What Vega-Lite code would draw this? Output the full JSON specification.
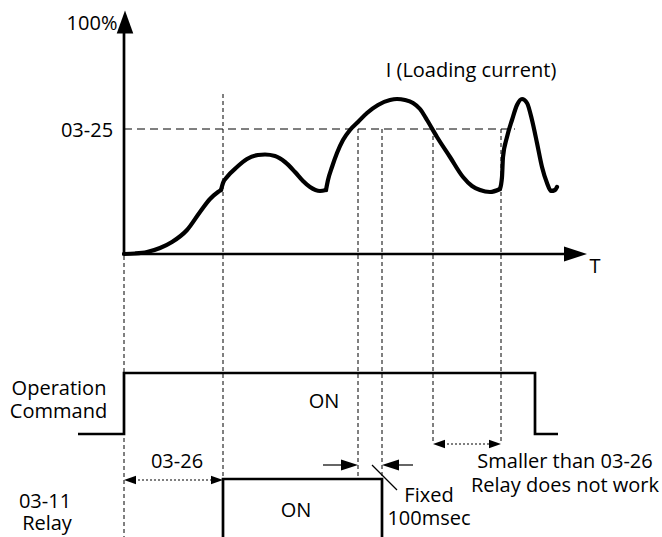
{
  "$schema": "https://vega.github.io/schema/vega-lite/v6.json",
  "width": 662,
  "height": 537,
  "autosize": {"type": "none"},
  "padding": 0,
  "background": "white",
  "config": {"view": {"stroke": null}},
  "datasets": {
    "curve": [
      {"seg": 1, "t": 124, "v": 254}, {"seg": 1, "t": 135, "v": 253.5}, {"seg": 1, "t": 147, "v": 252}, {"seg": 1, "t": 160, "v": 248}, {"seg": 1, "t": 172, "v": 242}, {"seg": 1, "t": 187, "v": 230}, {"seg": 1, "t": 200, "v": 212}, {"seg": 1, "t": 210, "v": 199}, {"seg": 1, "t": 218, "v": 192}, {"seg": 1, "t": 221, "v": 190},
      {"seg": 2, "t": 221, "v": 190}, {"seg": 2, "t": 223, "v": 183}, {"seg": 2, "t": 227, "v": 177}, {"seg": 2, "t": 237, "v": 167}, {"seg": 2, "t": 247, "v": 159}, {"seg": 2, "t": 258, "v": 155}, {"seg": 2, "t": 265, "v": 154.5}, {"seg": 2, "t": 275, "v": 156}, {"seg": 2, "t": 285, "v": 162}, {"seg": 2, "t": 295, "v": 172}, {"seg": 2, "t": 303, "v": 181}, {"seg": 2, "t": 310, "v": 187}, {"seg": 2, "t": 320, "v": 191}, {"seg": 2, "t": 326, "v": 190},
      {"seg": 3, "t": 326, "v": 190}, {"seg": 3, "t": 328, "v": 180}, {"seg": 3, "t": 332, "v": 167}, {"seg": 3, "t": 337, "v": 153}, {"seg": 3, "t": 343, "v": 140}, {"seg": 3, "t": 350, "v": 130}, {"seg": 3, "t": 358, "v": 122}, {"seg": 3, "t": 367, "v": 113}, {"seg": 3, "t": 378, "v": 105}, {"seg": 3, "t": 390, "v": 100}, {"seg": 3, "t": 397, "v": 99}, {"seg": 3, "t": 405, "v": 100}, {"seg": 3, "t": 413, "v": 103}, {"seg": 3, "t": 420, "v": 109}, {"seg": 3, "t": 427, "v": 120}, {"seg": 3, "t": 437, "v": 137}, {"seg": 3, "t": 450, "v": 157}, {"seg": 3, "t": 463, "v": 177}, {"seg": 3, "t": 472, "v": 186}, {"seg": 3, "t": 480, "v": 190}, {"seg": 3, "t": 490, "v": 192}, {"seg": 3, "t": 500, "v": 189},
      {"seg": 4, "t": 500, "v": 189}, {"seg": 4, "t": 502, "v": 177}, {"seg": 4, "t": 503, "v": 157}, {"seg": 4, "t": 507, "v": 137}, {"seg": 4, "t": 512, "v": 120}, {"seg": 4, "t": 517, "v": 105}, {"seg": 4, "t": 522, "v": 99}, {"seg": 4, "t": 527, "v": 103}, {"seg": 4, "t": 532, "v": 120}, {"seg": 4, "t": 537, "v": 143}, {"seg": 4, "t": 542, "v": 167}, {"seg": 4, "t": 547, "v": 183}, {"seg": 4, "t": 551, "v": 191}, {"seg": 4, "t": 555, "v": 190}, {"seg": 4, "t": 557, "v": 187}
    ],
    "solid": [
      {"path": "yaxis", "k": 1, "t": 124, "v": 254}, {"path": "yaxis", "k": 2, "t": 124, "v": 26},
      {"path": "xaxis", "k": 1, "t": 122, "v": 254}, {"path": "xaxis", "k": 2, "t": 568, "v": 254},
      {"path": "op", "k": 1, "t": 78, "v": 434}, {"path": "op", "k": 2, "t": 124, "v": 434}, {"path": "op", "k": 3, "t": 124, "v": 373}, {"path": "op", "k": 4, "t": 535, "v": 373}, {"path": "op", "k": 5, "t": 535, "v": 434}, {"path": "op", "k": 6, "t": 558, "v": 434},
      {"path": "relay", "k": 1, "t": 223, "v": 540}, {"path": "relay", "k": 2, "t": 223, "v": 479}, {"path": "relay", "k": 3, "t": 382, "v": 479}, {"path": "relay", "k": 4, "t": 382, "v": 540}
    ],
    "dashH": [
      {"t": 124, "v": 129, "t2": 515, "v2": 129}
    ],
    "dashV": [
      {"t": 124, "v": 256, "t2": 124, "v2": 537},
      {"t": 223, "v": 94, "t2": 223, "v2": 479},
      {"t": 358, "v": 129, "t2": 358, "v2": 479},
      {"t": 382, "v": 129, "t2": 382, "v2": 479},
      {"t": 433, "v": 129, "t2": 433, "v2": 444},
      {"t": 501, "v": 129, "t2": 501, "v2": 444}
    ],
    "dotted": [
      {"t": 130, "v": 480, "t2": 217, "v2": 480},
      {"t": 439, "v": 444, "t2": 495, "v2": 444}
    ],
    "thin": [
      {"t": 323, "v": 465, "t2": 345, "v2": 465},
      {"t": 396, "v": 465, "t2": 413, "v2": 465},
      {"t": 372, "v": 465, "t2": 397, "v2": 490}
    ],
    "axisHeads": [
      {"dir": "up", "t": 125, "v": 22},
      {"dir": "right", "t": 575.5, "v": 254}
    ],
    "dimHeads": [
      {"dir": "left", "t": 130, "v": 480},
      {"dir": "right", "t": 217, "v": 480},
      {"dir": "left", "t": 439, "v": 444},
      {"dir": "right", "t": 495, "v": 444}
    ],
    "fixedHeads": [
      {"dir": "right", "t": 349.5, "v": 465},
      {"dir": "left", "t": 390.5, "v": 465}
    ],
    "labels": [
      {"label": "100%", "t": 92, "v": 29.5},
      {"label": "03-25", "t": 87, "v": 137},
      {"label": "I (Loading current)", "t": 471, "v": 77},
      {"label": "T", "t": 595, "v": 273},
      {"label": "Operation", "t": 59, "v": 395},
      {"label": "Command", "t": 58.5, "v": 418},
      {"label": "ON", "t": 324, "v": 408},
      {"label": "03-26", "t": 177, "v": 468},
      {"label": "03-11", "t": 45, "v": 508},
      {"label": "Relay", "t": 47, "v": 530},
      {"label": "ON", "t": 296, "v": 517},
      {"label": "Fixed", "t": 429, "v": 502},
      {"label": "100msec", "t": 429, "v": 525},
      {"label": "Smaller than 03-26", "t": 565, "v": 468},
      {"label": "Relay does not work", "t": 565, "v": 492}
    ]
  },
  "encoding": {
    "x": {"field": "t", "type": "quantitative", "scale": {"domain": [0, 662], "nice": false, "zero": false}, "axis": null},
    "y": {"field": "v", "type": "quantitative", "scale": {"domain": [0, 537], "nice": false, "zero": false, "reverse": true}, "axis": null}
  },
  "layer": [
    {
      "data": {"name": "dashH"},
      "mark": {"type": "rule", "color": "black", "strokeWidth": 1, "strokeDash": [8, 5]},
      "encoding": {"x2": {"field": "t2"}, "y2": {"field": "v2"}}
    },
    {
      "data": {"name": "dashV"},
      "mark": {"type": "rule", "color": "black", "strokeWidth": 1, "strokeDash": [4, 3]},
      "encoding": {"x2": {"field": "t2"}, "y2": {"field": "v2"}}
    },
    {
      "data": {"name": "dotted"},
      "mark": {"type": "rule", "color": "black", "strokeWidth": 1.2, "strokeDash": [2, 2]},
      "encoding": {"x2": {"field": "t2"}, "y2": {"field": "v2"}}
    },
    {
      "data": {"name": "thin"},
      "mark": {"type": "rule", "color": "black", "strokeWidth": 1.2},
      "encoding": {"x2": {"field": "t2"}, "y2": {"field": "v2"}}
    },
    {
      "data": {"name": "solid"},
      "mark": {"type": "line", "color": "black", "strokeWidth": 2.7, "strokeJoin": "miter"},
      "encoding": {"detail": {"field": "path"}, "order": {"field": "k", "type": "quantitative"}}
    },
    {
      "data": {"name": "curve"},
      "mark": {"type": "line", "color": "black", "strokeWidth": 4.2, "interpolate": "monotone", "strokeCap": "round", "strokeJoin": "round"},
      "encoding": {"detail": {"field": "seg"}}
    },
    {
      "data": {"name": "axisHeads"},
      "mark": {"type": "point", "filled": true, "color": "black", "opacity": 1, "size": 529},
      "encoding": {"shape": {"field": "dir", "type": "nominal", "legend": null, "scale": {"domain": ["up", "right", "left"], "range": ["M0,-1L0.72,1L-0.72,1Z", "M1,0L-1,0.66L-1,-0.66Z", "M-1,0L1,-0.66L1,0.66Z"]}}}
    },
    {
      "data": {"name": "dimHeads"},
      "mark": {"type": "point", "filled": true, "color": "black", "opacity": 1, "size": 144},
      "encoding": {"shape": {"field": "dir", "type": "nominal", "legend": null, "scale": {"domain": ["up", "right", "left"], "range": ["M0,-1L0.72,1L-0.72,1Z", "M1,0L-1,0.72L-1,-0.72Z", "M-1,0L1,-0.72L1,0.72Z"]}}}
    },
    {
      "data": {"name": "fixedHeads"},
      "mark": {"type": "point", "filled": true, "color": "black", "opacity": 1, "size": 289},
      "encoding": {"shape": {"field": "dir", "type": "nominal", "legend": null, "scale": {"domain": ["up", "right", "left"], "range": ["M0,-1L0.72,1L-0.72,1Z", "M1,0L-1,0.66L-1,-0.66Z", "M-1,0L1,-0.66L1,0.66Z"]}}}
    },
    {
      "data": {"name": "labels"},
      "mark": {"type": "text", "font": "Open Sans", "fontSize": 20, "color": "black", "align": "center", "baseline": "alphabetic"},
      "encoding": {"text": {"field": "label"}}
    }
  ],
  "resolve": {"scale": {"shape": "independent"}}
}
